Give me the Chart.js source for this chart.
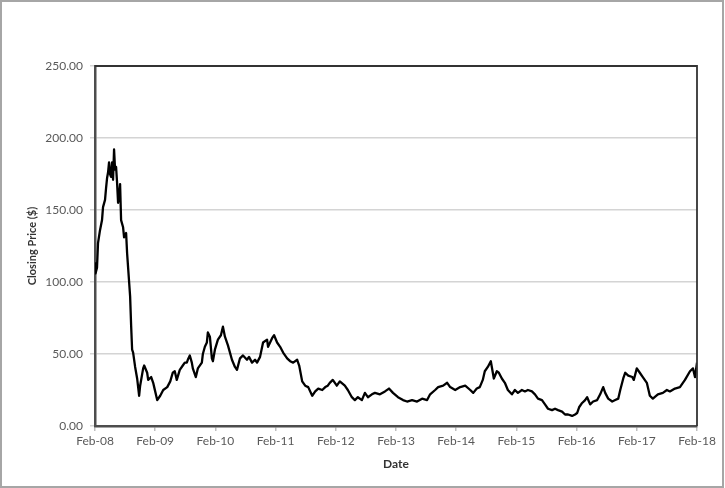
<!DOCTYPE html>
<html>
<head>
<meta charset="utf-8">
<script src="https://cdn.jsdelivr.net/npm/chart.js@4"></script>
<style>
  html, body { margin: 0; padding: 0; background: #ffffff; }
  #wrap { width: 725px; height: 488px; position: relative; }
  canvas { display: block; }
</style>
</head>
<body>
<div id="wrap"><canvas id="c" width="725" height="488"></canvas></div>
<script>
// Months elapsed since Feb-2008 (x) and closing price in $ (y)
const months = [
  0, 0.1, 0.4, 0.6, 1.0, 1.4, 1.6, 2.0, 2.2, 2.4, 2.6, 2.8, 3.0, 3.2, 3.4, 3.6, 3.8, 4.0, 4.2, 4.4,
  4.6, 4.8, 5.0, 5.2, 5.6, 5.8, 6.2, 6.4, 6.6, 6.8, 7.0, 7.2, 7.4, 7.6, 8.0, 8.4, 8.8, 9.0, 9.6, 9.8,
  10.4, 10.6, 11.2, 11.6, 11.8, 12.4, 13.0, 13.6, 14.4, 15.0, 15.5, 15.9, 16.3, 16.9, 17.5, 17.9, 18.3, 18.5, 18.9, 19.3,
  19.5, 20.1, 20.5, 21.3, 21.5, 21.9, 22.3, 22.5, 22.9, 23.3, 23.5, 23.9, 24.5, 25.1, 25.5, 25.9, 26.5, 27.3, 27.9, 28.3,
  28.9, 29.5, 30.3, 30.7, 31.3, 31.9, 32.3, 32.9, 33.5, 34.3, 34.5, 35.3, 35.7, 36.3, 36.9, 37.5, 38.3, 38.9, 39.5, 40.3,
  40.7, 41.3, 41.9, 42.5, 43.3, 43.9, 44.5, 45.3, 45.9, 46.4, 46.8, 47.4, 48.2, 48.8, 49.8, 50.4, 51.2, 51.8, 52.4, 53.2,
  53.8, 54.4, 55.2, 55.8, 56.8, 57.8, 58.6, 59.4, 60.4, 61.4, 62.2, 63.2, 64.2, 65.2, 66.2, 66.8, 67.8, 68.4, 69.4, 70.2,
  70.8, 71.8, 72.8, 73.8, 74.8, 75.4, 76.1, 76.7, 77.3, 77.7, 78.3, 78.9, 79.1, 79.5, 80.1, 80.5, 81.1, 81.7, 82.3, 83.1,
  83.7, 84.3, 85.1, 85.7, 86.3, 87.1, 87.7, 88.3, 89.1, 89.7, 90.3, 91.1, 91.7, 92.3, 93.1, 93.7, 94.3, 95.1, 95.7, 96.1,
  96.5, 97.1, 97.7, 98.1, 98.7, 99.3, 100.1, 100.7, 101.3, 101.7, 102.3, 103.1, 103.7, 104.3, 104.7, 105.3, 105.7, 106.3, 107.1, 107.4,
  108.0, 108.6, 109.2, 110.0, 110.6, 111.2, 112.2, 113.2, 114.0, 114.6, 115.6, 116.6, 117.6, 118.6, 119.2, 119.6, 120.0
];
const prices = [
  113, 106, 110, 127, 136, 143, 152, 157, 165, 172, 176, 183, 175, 173, 183, 171, 192, 178, 180, 169,
  155, 160, 168, 143, 138, 131, 134, 120, 110, 100, 90, 70, 53, 51, 41, 33, 21, 28, 40, 42,
  37, 32, 34, 30, 27, 18, 21, 25, 27, 31, 37, 38, 32, 39, 42, 44, 44, 46, 49, 44,
  40, 34, 40, 44, 50, 55, 58, 65, 62, 47, 45, 53, 60, 63, 69, 62, 56, 46, 41, 39,
  47, 49, 46, 48, 44, 46, 44, 48, 58, 60, 55, 61, 63, 58, 55, 51, 47, 45, 44, 46,
  42, 31, 28, 27, 21, 24, 26, 25, 27, 28, 30, 32, 28, 31, 28, 25, 20, 18, 20, 18,
  23, 20, 22, 23, 22, 24, 26, 23, 20, 18, 17, 18, 17, 19, 18, 22, 25, 27, 28, 30,
  27, 25, 27, 28, 25, 23, 26, 27, 32, 38, 41, 45, 41, 33, 38, 37, 33, 30, 25, 22,
  25, 23, 25, 24, 25, 24, 22, 19, 18, 15, 12, 11, 12, 11, 10, 8, 8, 7, 8, 9,
  13, 16, 18, 20, 15, 17, 18, 22, 27, 23, 19, 17, 18, 19, 25, 33, 37, 35, 34, 32,
  40, 37, 34, 30, 21, 19, 22, 23, 25, 24, 26, 27, 32, 38, 40, 34, 44
];
const tickLabels = ["Feb-08", "Feb-09", "Feb-10", "Feb-11", "Feb-12", "Feb-13", "Feb-14", "Feb-15", "Feb-16", "Feb-17", "Feb-18"];
const yTicks = [0, 50, 100, 150, 200, 250];

const points = months.map((m, i) => ({ x: m, y: prices[i] }));

const frame = {
  id: 'frame',
  beforeDraw(chart) {
    const ctx = chart.ctx;
    ctx.save();
    ctx.fillStyle = '#ffffff';
    ctx.fillRect(0, 0, chart.width, chart.height);
    ctx.strokeStyle = '#a6a6a6';
    ctx.lineWidth = 2;
    ctx.strokeRect(1, 1, 722, 486);
    ctx.restore();
  },
  afterDatasetsDraw(chart) {
    const a = chart.chartArea;
    const ctx = chart.ctx;
    ctx.save();
    ctx.strokeStyle = '#333333';
    ctx.lineWidth = 1.8;
    ctx.beginPath();
    ctx.moveTo(a.left, a.top);
    ctx.lineTo(a.right, a.top);
    ctx.lineTo(a.right, a.bottom);
    ctx.stroke();
    ctx.restore();
  }
};

new Chart(document.getElementById('c'), {
  type: 'line',
  data: {
    datasets: [{
      data: points,
      borderColor: '#000000',
      borderWidth: 2.3,
      borderJoinStyle: 'round',
      pointRadius: 0,
      tension: 0,
      fill: false
    }]
  },
  options: {
    responsive: false,
    animation: false,
    events: [],
    layout: { padding: { left: 0, top: 66, right: 28, bottom: 0 } },
    plugins: { legend: { display: false }, tooltip: { enabled: false } },
    scales: {
      x: {
        type: 'linear',
        min: 0,
        max: 120,
        afterBuildTicks(scale) {
          scale.ticks = tickLabels.map((_, i) => ({ value: i * 12 }));
        },
        afterFit(scale) { scale.height = 62; },
        grid: { drawOnChartArea: false, color: '#bfbfbf', tickLength: 5, lineWidth: 1.5 },
        border: { color: '#4d4d4d', width: 2.5 },
        ticks: {
          autoSkip: false,
          maxRotation: 0,
          padding: 3,
          color: '#595959',
          font: { family: 'Lato', size: 12 },
          callback: (v) => tickLabels[Math.round(v / 12)]
        },
        title: {
          display: true,
          text: 'Date',
          color: '#333333',
          font: { family: 'Lato', size: 12, weight: 'bold' },
          padding: { top: 0, bottom: 17 }
        }
      },
      y: {
        min: 0,
        max: 250,
        afterBuildTicks(scale) {
          scale.ticks = yTicks.map(v => ({ value: v }));
        },
        afterFit(scale) { scale.width = 95; },
        grid: { color: '#d4d4d4', lineWidth: 1.5, tickLength: 5 },
        border: { color: '#4d4d4d', width: 2.5 },
        ticks: {
          padding: 7,
          color: '#595959',
          font: { family: 'Lato', size: 12 },
          callback: (v) => Number(v).toFixed(2)
        },
        title: {
          display: true,
          text: 'Closing Price ($)',
          color: '#333333',
          font: { family: 'Lato', size: 11, weight: 'bold' },
          padding: { top: 26, bottom: 0 }
        }
      }
    }
  },
  plugins: [frame]
});
</script>
</body>
</html>
